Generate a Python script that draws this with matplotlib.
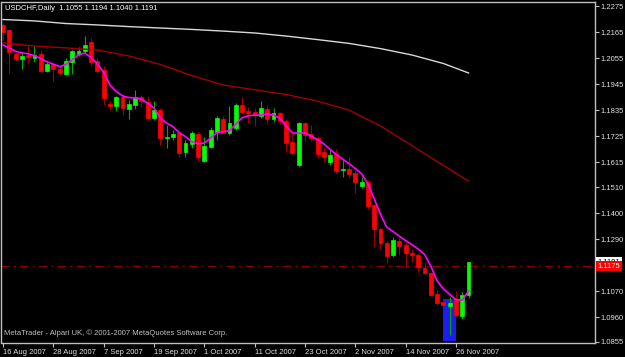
import numpy as np
import matplotlib
matplotlib.use("Agg")
import matplotlib.pyplot as plt
from matplotlib.patches import Rectangle
from matplotlib.transforms import blended_transform_factory

plt.rcParams["font.family"] = ["Liberation Sans", "DejaVu Sans"]

# daily USDCHF bars, 16 Aug 2007 .. 28 Nov 2007
opens = [1.2195, 1.2174, 1.2072, 1.2051, 1.2068, 1.2057, 1.2072, 1.2002, 1.2028, 1.2009,
         1.1988, 1.2040, 1.2072, 1.2085, 1.2123, 1.2043, 1.2005, 1.1861, 1.1854, 1.1892,
         1.1840, 1.1857, 1.1889, 1.1871, 1.1800, 1.1835, 1.1718, 1.1720, 1.1737, 1.1659,
         1.1690, 1.1734, 1.1621, 1.1680, 1.1741, 1.1797, 1.1740, 1.1758, 1.1857, 1.1832,
         1.1828, 1.1811, 1.1840, 1.1796, 1.1821, 1.1790, 1.1701, 1.1603, 1.1779, 1.1733,
         1.1716, 1.1656, 1.1617, 1.1649, 1.1584, 1.1585, 1.1570, 1.1514, 1.1532, 1.1434,
         1.1331, 1.1275, 1.1223, 1.1283, 1.1265, 1.1232, 1.1223, 1.1166, 1.1145, 1.1058,
         1.1025, 1.1008, 1.1032, 1.0966, 1.1055]
highs = [1.2203, 1.2178, 1.2081, 1.2076, 1.2106, 1.2104, 1.2085, 1.2038, 1.2034, 1.2021,
         1.2055, 1.2089, 1.2102, 1.2148, 1.2140, 1.2055, 1.2021, 1.1873, 1.1896, 1.1899,
         1.1878, 1.1920, 1.1899, 1.1892, 1.1873, 1.1844, 1.1772, 1.1751, 1.1747, 1.1709,
         1.1748, 1.1742, 1.1723, 1.1765, 1.1810, 1.1810, 1.1852, 1.1866, 1.1892, 1.1847,
         1.1843, 1.1873, 1.1857, 1.1843, 1.1828, 1.1797, 1.1737, 1.1786, 1.1785, 1.1772,
         1.1726, 1.1674, 1.1669, 1.1669, 1.1624, 1.1638, 1.1582, 1.1554, 1.1540, 1.1438,
         1.1340, 1.1282, 1.1297, 1.1300, 1.1279, 1.1247, 1.1231, 1.1194, 1.1151, 1.1075,
         1.1032, 1.1046, 1.1072, 1.1067, 1.1194]
lows = [1.2131, 1.1992, 1.2043, 1.2009, 1.2034, 1.2038, 1.1992, 1.1996, 1.1958, 1.1983,
        1.1983, 1.1988, 1.2064, 1.2076, 1.2021, 1.1992, 1.1857, 1.1835, 1.1831, 1.1814,
        1.1797, 1.1840, 1.1849, 1.1793, 1.1793, 1.1687, 1.1675, 1.1709, 1.1635, 1.1638,
        1.1674, 1.1621, 1.1617, 1.1674, 1.1709, 1.1734, 1.1730, 1.1751, 1.1823, 1.1780,
        1.1768, 1.1800, 1.1775, 1.1783, 1.1775, 1.1659, 1.1649, 1.1596, 1.1706, 1.1706,
        1.1631, 1.1614, 1.1603, 1.1570, 1.1551, 1.1551, 1.1483, 1.1504, 1.1417, 1.1255,
        1.1248, 1.1187, 1.1215, 1.1223, 1.1173, 1.1194, 1.1152, 1.1140, 1.1049, 1.1011,
        1.1004, 1.0884, 1.0962, 1.0952, 1.1040]
closes = [1.2165, 1.2081, 1.2051, 1.2064, 1.2059, 1.2066, 1.2002, 1.2030, 1.2007, 1.1992,
          1.2043, 1.2085, 1.2085, 1.2110, 1.2038, 1.2002, 1.1886, 1.1852, 1.1889, 1.1843,
          1.1861, 1.1892, 1.1875, 1.1800, 1.1835, 1.1718, 1.1721, 1.1734, 1.1655, 1.1695,
          1.1737, 1.1635, 1.1683, 1.1751, 1.1803, 1.1740, 1.1782, 1.1857, 1.1828, 1.1824,
          1.1814, 1.1843, 1.1796, 1.1821, 1.1790, 1.1697, 1.1655, 1.1779, 1.1730, 1.1716,
          1.1648, 1.1638, 1.1645, 1.1579, 1.1586, 1.1565, 1.1532, 1.1530, 1.1430, 1.1331,
          1.1275, 1.1220, 1.1286, 1.1261, 1.1230, 1.1223, 1.1173, 1.1145, 1.1053, 1.1021,
          1.1011, 1.1018, 1.0969, 1.1053, 1.1191]

# fast moving average (magenta), one value per bar
ma_fast = [1.2110, 1.2098, 1.2083, 1.2077, 1.2073, 1.2065, 1.2053, 1.2039, 1.2029, 1.2019,
           1.2028, 1.2048, 1.2068, 1.2076, 1.2057, 1.2030, 1.1996, 1.1941, 1.1914, 1.1895,
           1.1888, 1.1887, 1.1881, 1.1864, 1.1844, 1.1802, 1.1780, 1.1766, 1.1740, 1.1723,
           1.1702, 1.1693, 1.1696, 1.1717, 1.1740, 1.1744, 1.1748, 1.1776, 1.1803, 1.1811,
           1.1814, 1.1814, 1.1819, 1.1814, 1.1801, 1.1768, 1.1739, 1.1737, 1.1739, 1.1725,
           1.1710, 1.1692, 1.1669, 1.1646, 1.1628, 1.1609, 1.1588, 1.1566, 1.1523, 1.1461,
           1.1395, 1.1340, 1.1322, 1.1302, 1.1284, 1.1266, 1.1248, 1.1225, 1.1176, 1.1113,
           1.1080, 1.1056, 1.1034, 1.1032, 1.1070]

# slow averages, read every 5 bars
ma_bars = [0, 5, 10, 15, 20, 25, 30, 35, 40, 45, 50, 55, 60, 65, 70, 74]
ma_mid = [1.2119, 1.2106, 1.2098, 1.2089, 1.2064, 1.2028, 1.1981, 1.1941,
          1.1921, 1.1901, 1.1873, 1.1835, 1.1768, 1.1685, 1.1601, 1.1535]
ma_long = [1.2218, 1.2212, 1.2201, 1.2195, 1.2188, 1.2182, 1.2176, 1.2169,
           1.2161, 1.2148, 1.2133, 1.2117, 1.2095, 1.2068, 1.2032, 1.1992]

ytick_vals = [1.2275, 1.2165, 1.2055, 1.1945, 1.1835, 1.1725, 1.1615,
              1.1510, 1.1400, 1.1290, 1.1070, 1.0960, 1.0855]
date_bars = [0, 8, 16, 24, 32, 40, 48, 56, 64, 72]
date_labels = ["16 Aug 2007", "28 Aug 2007", "7 Sep 2007", "19 Sep 2007", "1 Oct 2007",
               "11 Oct 2007", "23 Oct 2007", "2 Nov 2007", "14 Nov 2007", "26 Nov 2007"]

hline_price = 1.1175
last_price = 1.1191
rect_bars = (70, 72)
rect_prices = (1.0859, 1.1036)

GREY = "#c0c0c0"
FS = 5.5

fig = plt.figure(figsize=(6.25, 3.57), dpi=100, facecolor="black")
ax = fig.add_axes([1.5 / 625, 13.7 / 357, 593.5 / 625, 341.6 / 357])
ax.set_facecolor("black")

x = np.arange(len(opens))
o = np.array(opens); h = np.array(highs); l = np.array(lows); c = np.array(closes)
up = c >= o

# rectangle object
ax.add_patch(Rectangle((rect_bars[0], rect_prices[0]), rect_bars[1] - rect_bars[0],
                       rect_prices[1] - rect_prices[0], facecolor="#1c1cf0",
                       edgecolor="none", zorder=1))

ax.axhline(hline_price, color="#8b0000", lw=1, dashes=(6, 3, 1.5, 3), zorder=1.5)

# wicks
ax.vlines(x[up], l[up], h[up], color="#00a800", lw=0.8, zorder=2)
ax.vlines(x[~up], l[~up], h[~up], color="#a00000", lw=0.8, zorder=2)

# bodies
bw = 0.62
bottoms = np.minimum(o, c)
heights = np.abs(c - o)
ax.bar(x[up], heights[up], bw, bottom=bottoms[up], color="#00ff00",
       edgecolor="#00ff00", lw=0.5, zorder=2.5)
ax.bar(x[~up], heights[~up], bw, bottom=bottoms[~up], color="#ff0000",
       edgecolor="#ff0000", lw=0.5, zorder=2.5)

# moving averages
ax.plot(ma_bars, ma_long, color="#d8d8d8", lw=1, zorder=3)
ax.plot(ma_bars, ma_mid, color="#a00000", lw=1, zorder=3)
ax.plot(x, ma_fast, color="#ff00ff", lw=1.2, zorder=3)

ax.set_xlim(-0.24, 94.1)
ax.set_ylim(1.08495, 1.22932)

for s in ax.spines.values():
    s.set_color(GREY)
    s.set_linewidth(1)

ax.yaxis.tick_right()
ax.set_yticks(ytick_vals)
ax.set_yticklabels(["%.4f" % v for v in ytick_vals])
ax.tick_params(axis="y", colors=GREY, labelsize=FS, length=3, pad=1, width=0.8)
ax.set_xticks(date_bars)
ax.set_xticklabels(date_labels, ha="left")
ax.tick_params(axis="x", colors=GREY, labelsize=FS, length=3, pad=1, width=0.8)
for lab in ax.get_xticklabels() + ax.get_yticklabels():
    lab.set_color("#e0e0e0")

# price labels on the right scale
tr = blended_transform_factory(ax.transAxes, ax.transData)
ax.text(1.004, last_price, "%.4f" % last_price, transform=tr, fontsize=FS,
        color="black", va="center", ha="left", clip_on=False,
        bbox=dict(boxstyle="square,pad=0.2", facecolor="white", edgecolor="none"))
ax.text(1.004, hline_price, "%.4f" % hline_price, transform=tr, fontsize=FS,
        color="white", va="center", ha="left", clip_on=False,
        bbox=dict(boxstyle="square,pad=0.2", facecolor="#ff0000", edgecolor="none"))

fig.text(5 / 625, 1 - 8 / 357, "USDCHF,Daily  %.4f %.4f %.4f %.4f"
         % (opens[-1], highs[-1], lows[-1], closes[-1]),
         color="white", fontsize=FS, va="center", ha="left")
fig.text(4 / 625, 1 - 333 / 357,
         "MetaTrader - Alpari UK, \u00a9 2001-2007 MetaQuotes Software Corp.",
         color=GREY, fontsize=FS, va="center", ha="left")

fig.savefig("out.png", dpi=100, facecolor="black")
